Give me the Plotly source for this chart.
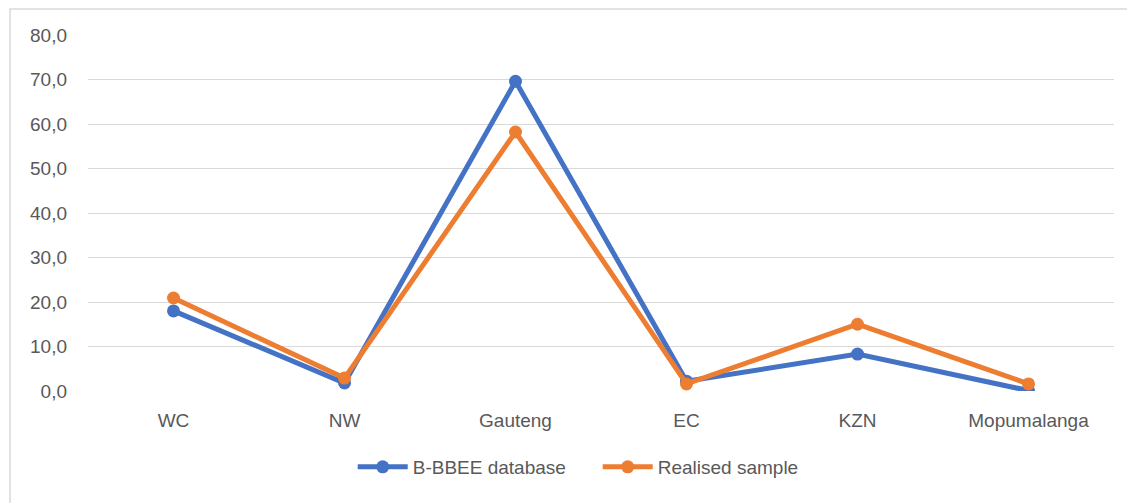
import plotly.graph_objects as go

categories = ["WC", "NW", "Gauteng", "EC", "KZN", "Mopumalanga"]
bbbee_database = [18.0, 1.8, 69.6, 2.2, 8.3, 0.1]
realised_sample = [20.9, 2.9, 58.2, 1.6, 15.0, 1.6]
y_ticks = [0, 10, 20, 30, 40, 50, 60, 70, 80]
y_tick_labels = ["0,0", "10,0", "20,0", "30,0", "40,0", "50,0", "60,0", "70,0", "80,0"]

fig = go.Figure()
fig.add_trace(go.Scatter(x=categories, y=bbbee_database, name="B-BBEE database",
                         mode="lines+markers",
                         line=dict(color="#4472C4", width=5),
                         marker=dict(size=13, color="#4472C4")))
fig.add_trace(go.Scatter(x=categories, y=realised_sample, name="Realised sample",
                         mode="lines+markers",
                         line=dict(color="#ED7D31", width=5),
                         marker=dict(size=13, color="#ED7D31")))

fig.update_layout(
    width=1127, height=495,
    margin=dict(l=80, r=21, t=27, b=112),
    paper_bgcolor="white", plot_bgcolor="white",
    font=dict(family="Liberation Sans, Arial, sans-serif", size=19, color="#595959"),
    showlegend=True,
    legend=dict(orientation="h", x=0.258, xanchor="left", y=-0.16, yanchor="top",
                font=dict(size=19, color="#595959"), itemwidth=50,
                entrywidth=180, entrywidthmode="pixels"),
    xaxis=dict(type="category", range=[-0.5, 5.5], showgrid=False, showline=False,
               zeroline=False, ticks="", ticklabelstandoff=16,
               tickfont=dict(size=19, color="#595959")),
    yaxis=dict(range=[0, 80], tickvals=y_ticks, ticktext=y_tick_labels,
               showgrid=True, gridcolor="#D9D9D9", gridwidth=1, zeroline=False,
               showline=False, ticks="", ticklabelstandoff=20,
               tickfont=dict(size=19, color="#595959")),
    shapes=[dict(type="rect", xref="paper", yref="paper",
                 x0=-0.076, x1=1.1, y0=-0.4, y1=1.073,
                 line=dict(color="#D9D9D9", width=1.5), fillcolor="rgba(0,0,0,0)")],
)

fig.write_html("out.html")
